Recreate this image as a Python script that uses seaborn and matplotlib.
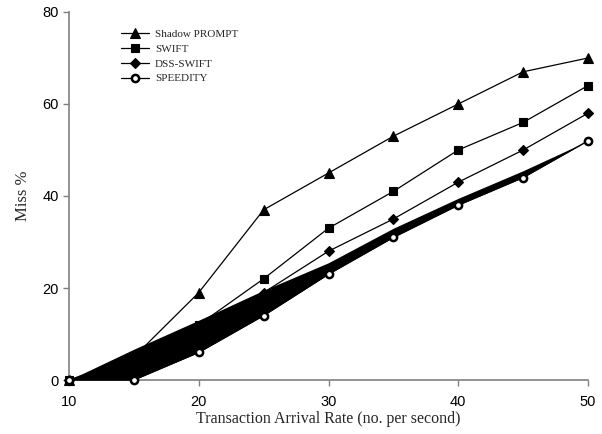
import matplotlib
matplotlib.use("Agg")
import matplotlib.pyplot as plt
import seaborn as sns
import pandas as pd

rates = [10, 15, 20, 25, 30, 35, 40, 45, 50]
shadow_prompt = [0, 5, 19, 37, 45, 53, 60, 67, 70]
swift = [0, 3, 12, 22, 33, 41, 50, 56, 64]
dss_swift = [0, 2, 11, 19, 28, 35, 43, 50, 58]
speedity = [0, 0, 6, 14, 23, 31, 38, 44, 52]
band_upper = [0, 6.7, 13, 19.5, 25.5, 33, 39.5, 45.5, 52]

x_ticks = [10, 20, 30, 40, 50]
y_ticks = [0, 20, 40, 60, 80]

sns.set_style("ticks")
fig = plt.figure(figsize=(6.02, 4.34), dpi=100)
ax = fig.add_axes([69/602, 1-380/434, (588-69)/602, (380-12)/434])

ax.fill_between(rates, speedity, band_upper, color="black", lw=0, zorder=3)

series = [
    ("Shadow PROMPT", shadow_prompt, "^", "black", 7),
    ("SWIFT", swift, "s", "black", 5.8),
    ("DSS-SWIFT", dss_swift, "D", "black", 5.5),
    ("SPEEDITY", speedity, "o", "white", 5.2),
]
for name, vals, mk, fc, ms in series:
    df = pd.DataFrame({"rate": rates, "miss": vals})
    sns.lineplot(data=df, x="rate", y="miss", ax=ax, color="black", lw=0.9,
                 marker=mk, markersize=ms, markerfacecolor=fc,
                 markeredgecolor="black", markeredgewidth=1.8 if fc == "white" else 0.8,
                 label=name, zorder=4 if fc == "white" else 2, clip_on=False)

ax.set_xlim(10, 50)
ax.set_ylim(0, 80)
ax.set_xticks(x_ticks)
ax.set_yticks(y_ticks)
for s in ["top", "right"]:
    ax.spines[s].set_visible(False)
for s in ["left", "bottom"]:
    ax.spines[s].set_color("#808080")
    ax.spines[s].set_linewidth(1.2)
ax.tick_params(axis="both", colors="#808080", length=4, width=1.0, labelcolor="black",
               labelsize=10.5)
ax.tick_params(axis="x", pad=7)
for lab in ax.get_xticklabels() + ax.get_yticklabels():
    lab.set_family("Liberation Sans")

ax.set_xlabel("Transaction Arrival Rate (no. per second)", family="Liberation Serif",
              fontsize=11.5, labelpad=1)
ax.set_ylabel("Miss %", family="Liberation Serif", fontsize=12, labelpad=8)

leg = ax.legend(loc="upper left", bbox_to_anchor=(0.08, 0.98), frameon=False,
                prop={"family": "Liberation Serif", "size": 8},
                handlelength=2.6, labelspacing=0.45, handletextpad=0.5)

fig.savefig("out.png", dpi=100)
